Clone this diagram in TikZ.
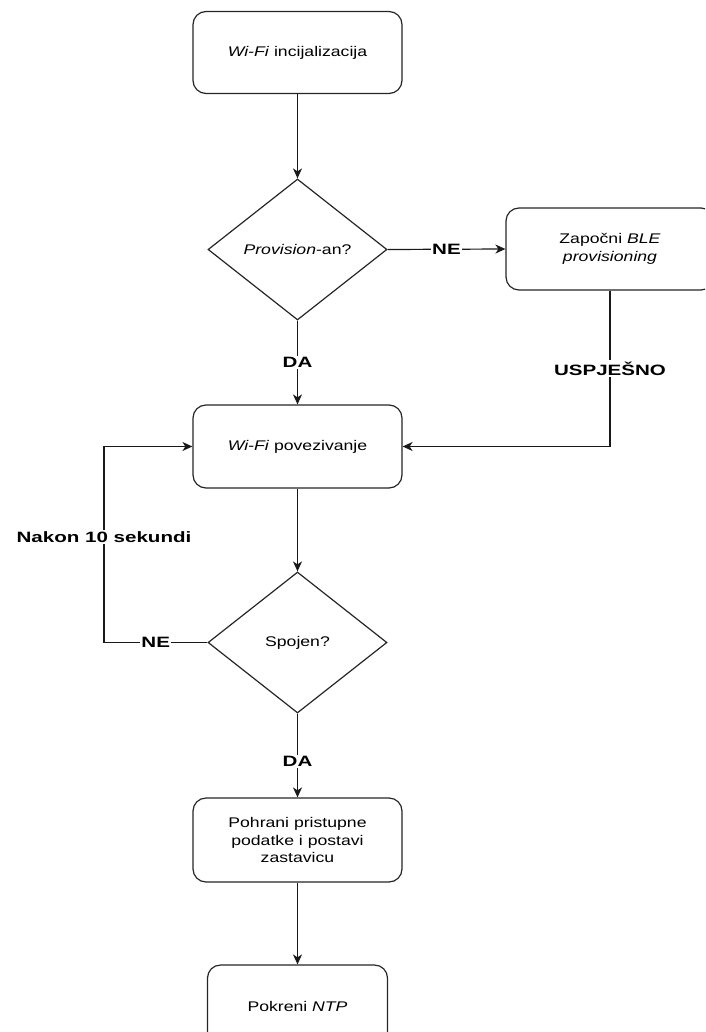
\documentclass[tikz,border=0pt]{standalone}
\usepackage{fontspec}
\setmainfont{Liberation Sans}[FakeStretch=1.26]
\newfontfamily\labelfont{Liberation Sans}[FakeStretch=1.37]
\usetikzlibrary{shapes.geometric,arrows.meta}
\begin{document}
\begin{tikzpicture}[x=1pt,y=-1pt,
  every node/.style={inner sep=0pt},
  proc/.style={draw=black!85, line width=1.2pt, rounded corners=13pt, fill=white,
    minimum width=209pt, minimum height=82pt, align=center,
    font=\fontsize{14}{17.5}\selectfont},
  decision/.style={draw=black!85, line width=1.2pt, diamond, fill=white,
    minimum width=179pt, minimum height=141pt, align=center,
    font=\fontsize{14}{17.5}\selectfont},
  flow/.style={draw=black!90, line width=1.2pt, -{Stealth[length=10pt,width=9pt,inset=3pt]}},
  tag/.style={fill=white, inner sep=1.5pt, font=\labelfont\bfseries\fontsize{15}{18}\selectfont}
]
\useasboundingbox (0,0) rectangle (705,1032);
\clip (0,0) rectangle (705,1032);

% process steps and decisions
\node[proc] (init) at (297.5,52.5) {\textit{Wi-Fi} incijalizacija};
\node[decision] (prov) at (297.5,249.5) {\textit{Provision}-an?};
\node[proc, minimum width=208pt] (ble) at (610,249) {Započni \textit{BLE}\\\textit{provisioning}};
\node[proc, minimum height=83pt] (conn) at (297.5,446.5) {\textit{Wi-Fi} povezivanje};
\node[decision] (ok) at (297.5,642.5) {Spojen?};
\node[proc, minimum height=84pt] (store) at (297.5,840) {Pohrani pristupne\\podatke i postavi\\zastavicu};
\node[proc, minimum width=180pt] (ntp) at (297.5,1006) {Pokreni \textit{NTP}};

\coordinate (retry) at (104,642.5);

% connectors
\draw[flow] (init) -- (prov);
\draw[flow] (prov.east) -- node[tag] {NE} (ble.west);
\draw[flow] (prov.south) -- node[tag] {DA} (conn.north);
\draw[flow] (ble.south) |- node[tag, pos=0.25] {USPJEŠNO} (conn.east);
\draw[flow] (conn) -- (ok);
\draw[flow] (ok.west) -- node[tag] {NE} (retry) |- node[tag, pos=0.27] {Nakon 10 sekundi} (conn.west);
\draw[flow] (ok.south) -- node[tag, pos=0.57] {DA} (store.north);
\draw[flow] (store) -- (ntp);
\end{tikzpicture}
\end{document}
